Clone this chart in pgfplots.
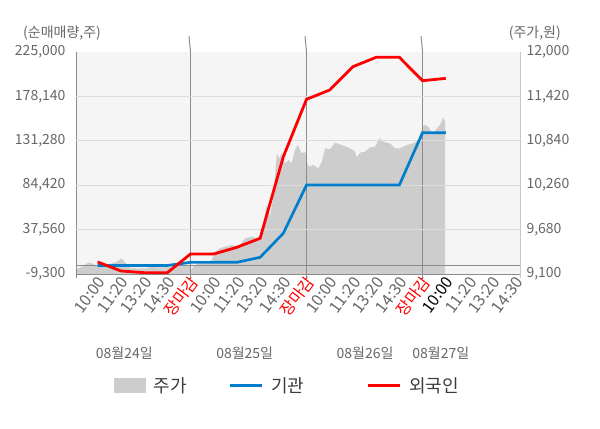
\documentclass[border=0pt]{standalone}
\usepackage{pgfplots}
\pgfplotsset{compat=1.18}
\usepackage{fontspec}
\setmainfont{Noto Sans CJK KR}
\definecolor{bgcol}{RGB}{245,245,245}
\definecolor{areacol}{RGB}{205,205,205}
\definecolor{gridcol}{RGB}{220,220,220}
\definecolor{daycol}{RGB}{140,140,140}
\definecolor{labcol}{RGB}{102,102,102}
\definecolor{bluecol}{RGB}{0,126,204}
\definecolor{redcol}{RGB}{255,0,0}
\definecolor{rightaxcol}{RGB}{200,200,200}
\definecolor{legtext}{RGB}{60,60,60}
\begin{document}
\begin{tikzpicture}[x=1bp,y=1bp]
\useasboundingbox (0,0) rectangle (600,428);
% price area (right axis)
\begin{axis}[
  at={(76bp,154bp)}, anchor=south west,
  width=444bp, height=222bp, scale only axis,
  xmin=0.065, xmax=19.2, ymin=9100, ymax=12000,
  scaled y ticks=false,
  axis x line=none,
  axis y line*=right,
  axis line style={-},
  y axis line style={draw=rightaxcol, line width=1bp},
  ytick={9100,9680,10260,10840,11420,12000},
  yticklabels={{9,100},{9,680},{10,260},{10,840},{11,420},{12,000}},
  major tick length=0pt,
  yticklabel style={font=\fontsize{14bp}{16bp}\selectfont, text=labcol, anchor=west, xshift=3bp},
  axis background/.style={fill=bgcol},
  /pgf/number format/assume math mode=true,
]
\addplot[fill=areacol, draw=none] coordinates {
(0.065,9161) (0.24,9182) (0.45,9218) (0.59,9248) (0.74,9240) (0.88,9218) (1.03,9195)
(1.31,9218) (1.53,9230) (1.82,9261) (2.03,9305) (2.25,9227) (2.39,9182) (2.69,9174)
(3.13,9174) (3.25,9191) (3.69,9185) (4.12,9191) (4.25,9208) (4.68,9208) (4.98,9208)
(5.01,9152) (5.12,9195) (5.34,9240) (5.63,9248) (5.91,9283) (6.09,9391) (6.27,9436)
(6.49,9457) (6.78,9479) (7.06,9457) (7.35,9566) (7.64,9587) (7.85,9566) (8.04,9587)
(8.14,9762) (8.28,10001) (8.43,9849) (8.57,10110) (8.72,10677) (8.83,10611) (8.93,10677)
(9.07,10546) (9.22,10589) (9.36,10546) (9.50,10720) (9.62,10785) (9.79,10677) (9.94,10698)
(10.03,10546) (10.12,10502) (10.29,10524) (10.51,10481) (10.66,10567) (10.80,10742)
(11.01,10729) (11.23,10815) (11.52,10785) (11.88,10742) (12.09,10698) (12.16,10624)
(12.31,10685) (12.52,10698) (12.74,10755) (12.95,10763) (13.14,10873) (13.31,10828)
(13.60,10807) (13.81,10742) (14.03,10742) (14.32,10785) (14.60,10807) (14.82,10850)
(15.01,11024) (15.11,11046) (15.25,11024) (15.47,10916) (15.61,11003) (15.75,11046)
(15.90,11147) (15.96,11089) (15.97,11089)
} \closedcycle;
\end{axis}
% net buying lines (left axis)
\begin{axis}[
  at={(76bp,154bp)}, anchor=south west,
  width=444bp, height=222bp, scale only axis,
  xmin=0.065, xmax=19.2, ymin=-9300, ymax=225000,
  scaled y ticks=false, scaled x ticks=false,
  clip=false,
  axis x line*=bottom, axis y line*=left,
  axis line style={-, draw=daycol, line width=1bp},
  xtick={1,...,19},
  xticklabels={10:00,11:20,13:20,14:30,\textcolor{red}{장마감},10:00,11:20,13:20,14:30,\textcolor{red}{장마감},10:00,11:20,13:20,14:30,\textcolor{red}{장마감},\textcolor{black}{10:00},11:20,13:20,14:30},
  ytick={-9300,37560,84420,131280,178140,225000},
  yticklabels={{-9,300},{37,560},{84,420},{131,280},{178,140},{225,000}},
  major tick length=0pt,
  tick align=outside,
  extra x ticks={5,10,15},
  extra x tick labels={},
  extra x tick style={grid=major, major grid style={draw=daycol, line width=1bp}, major tick length=4bp, tick style={draw=daycol, line width=1bp}},
  extra y ticks={37560,84420,131280,178140},
  extra y tick labels={},
  extra y tick style={grid=major, major grid style={draw=gridcol, line width=1bp}},
  xticklabel style={rotate=53, anchor=east, font=\fontsize{16bp}{18bp}\selectfont, text=labcol, xshift=2bp, yshift=-6bp},
  yticklabel style={font=\fontsize{14bp}{16bp}\selectfont, text=labcol, xshift=-7bp},
  /pgf/number format/assume math mode=true,
  legend columns=3,
  legend style={at={(0.0856,-0.502)}, anchor=west, draw=none, fill=none, inner sep=0pt,
    nodes={inner sep=0pt},
    font=\fontsize{18bp}{20bp}\selectfont, text=legtext,
    /tikz/every odd column/.append style={column sep=8bp},
    /tikz/column 2/.append style={column sep=42bp},
    /tikz/column 4/.append style={column sep=62bp}},
  legend image code/.code={\draw[#1] (0bp,0bp) -- (32bp,0bp);},
]
\addplot[daycol, line width=1bp, forget plot] coordinates {(0.065,0) (19.2,0)};
\addlegendimage{legend image code/.code={\fill[areacol] (0bp,-7bp) rectangle (31bp,7bp);}}
\addlegendentry{주가}
\addplot[bluecol, line width=2.7bp] coordinates {
(1,-300) (2,-300) (3,-300) (4,-300) (5,3000) (6,3000) (7,3050) (8,8300) (9,33700)
(10,84600) (11,84600) (12,84600) (13,84600) (14,84600) (15,139800) (16,139800)
};
\addlegendentry{기관}
\addplot[redcol, line width=2.8bp] coordinates {
(1,3400) (2,-6100) (3,-7900) (4,-7900) (5,11800) (6,11800) (7,18900) (8,28400) (9,114500)
(10,175100) (11,184900) (12,209500) (13,219400) (14,219400) (15,194700) (16,197200)
};
\addlegendentry{외국인}
\draw[daycol, line width=1bp] (axis cs:5,225000) -- ++(0,7bp);
\draw[daycol, line width=1bp] (axis cs:10,225000) -- ++(0,7bp);
\draw[daycol, line width=1bp] (axis cs:15,225000) -- ++(0,7bp);
\end{axis}
\draw[daycol, line width=1bp] (76,154) -- (76,150);
\draw[rightaxcol, line width=1bp] (520,154) -- (520,150);
\node[anchor=west, font=\fontsize{14bp}{16bp}\selectfont, text=labcol, inner sep=0pt] at (23,395) {(순매매량,주)};
\node[anchor=east, font=\fontsize{14bp}{16bp}\selectfont, text=labcol, inner sep=0pt] at (561,395) {(주가,원)};
\node[font=\fontsize{14bp}{16bp}\selectfont, text=labcol, inner sep=0pt] at (124.3,75) {08월24일};
\node[font=\fontsize{14bp}{16bp}\selectfont, text=labcol, inner sep=0pt] at (244.7,75) {08월25일};
\node[font=\fontsize{14bp}{16bp}\selectfont, text=labcol, inner sep=0pt] at (365,75) {08월26일};
\node[font=\fontsize{14bp}{16bp}\selectfont, text=labcol, inner sep=0pt] at (440.8,75) {08월27일};
\end{tikzpicture}
\end{document}
